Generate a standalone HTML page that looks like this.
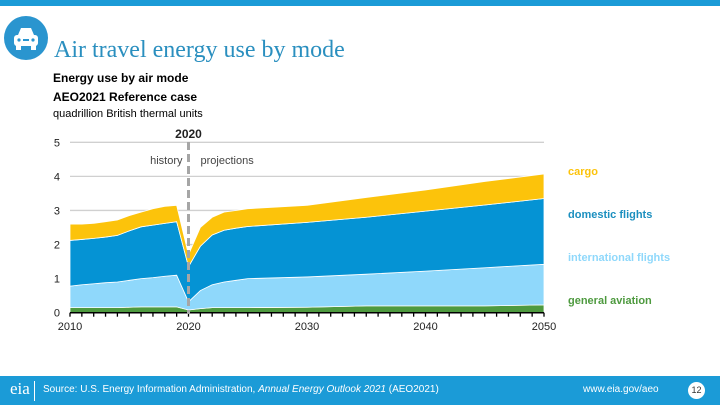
<!DOCTYPE html>
<html><head><meta charset="utf-8"><style>
body{margin:0;width:720px;height:405px;overflow:hidden;background:#fff;font-family:"Liberation Sans",sans-serif;position:relative}
.abs{position:absolute}
</style></head><body>
<div class="abs" style="left:0;top:0;width:720px;height:6px;background:#1b9bd7"></div>
<div class="abs" style="left:4px;top:16px;width:44px;height:44px;border-radius:50%;background:#2a95cf">
<svg width="44" height="44"><rect x="10" y="19" width="24" height="11" rx="3" fill="#fff"/><path d="M14 19 L17 12 H27 L30 19Z" fill="#fff"/><rect x="12" y="29" width="5" height="5" fill="#fff"/><rect x="27" y="29" width="5" height="5" fill="#fff"/><circle cx="15" cy="24" r="1.6" fill="#2a95cf"/><circle cx="29" cy="24" r="1.6" fill="#2a95cf"/><rect x="19" y="23" width="6" height="2" fill="#2a95cf"/></svg></div>
<div class="abs" style="left:54px;top:37px;font-family:'Liberation Serif',serif;font-size:24px;color:#2a8fbf">Air travel energy use by mode</div>
<div class="abs" style="left:53px;top:71px;font-size:12px;font-weight:bold">Energy use by air mode</div>
<div class="abs" style="left:53px;top:90px;font-size:12px;font-weight:bold">AEO2021 Reference case</div>
<div class="abs" style="left:53px;top:108px;font-size:11px">quadrillion British thermal units</div>
<svg class="abs" style="left:0;top:0" width="720" height="405" id="chart"></svg>
<div class="abs" style="left:0;top:376px;width:720px;height:29px;background:#1b9bd7;color:#fff">
<div class="abs" style="left:10px;top:3px;font-size:17px;font-family:'Liberation Serif',serif">eia</div>
<div class="abs" style="left:34px;top:5px;width:1px;height:20px;background:#fff"></div>
<div class="abs" style="left:43px;top:8px;font-size:10px">Source: U.S. Energy Information Administration, <i>Annual Energy Outlook 2021</i> (AEO2021)</div>
<div class="abs" style="left:583px;top:8px;font-size:10px">www.eia.gov/aeo</div>
<div class="abs" style="left:688px;top:6px;width:17px;height:17px;border-radius:50%;background:#fff;color:#333;font-size:9px;text-align:center;line-height:17px">12</div>
</div>
<script>
const years=[2010,2011,2012,2013,2014,2015,2016,2017,2018,2019,2020,2021,2022,2023,2024,2025,2030,2035,2040,2045,2050];
const generalAviation=[.15,.15,.15,.15,.15,.16,.17,.17,.17,.17,.08,.12,.15,.15,.15,.15,.16,.2,.2,.2,.23];
const international=[.63,.67,.70,.73,.75,.79,.83,.86,.90,.93,.24,.53,.67,.75,.80,.85,.89,.93,1.02,1.12,1.19];
const domestic=[1.34,1.33,1.33,1.34,1.37,1.45,1.52,1.54,1.55,1.57,1.03,1.30,1.46,1.52,1.53,1.53,1.60,1.67,1.76,1.84,1.93];
const cargo=[.48,.45,.44,.45,.45,.45,.43,.48,.50,.48,.35,.55,.52,.53,.52,.52,.50,.58,.62,.69,.72];
const yTicks=[0,1,2,3,4,5];
const xTicks=[2010,2020,2030,2040,2050];
const seriesNames=["general aviation","international flights","domestic flights","cargo"];
const seriesColors=["#4e9a3f","#8fd8fb","#0593d4","#fcc30b"];
const labelColors=["#4e9a3f","#8fd8fb","#1b8fbf","#fcc30b"];
const labelY=[304,261,218,175];
const X=y=>70+(y-2010)*(544-70)/40;
const Y=v=>312.7-v*34.08;
const svg=document.getElementById('chart');
const NS="http://www.w3.org/2000/svg";
function mk(t,a){const e=document.createElementNS(NS,t);for(const k in a)e.setAttribute(k,a[k]);svg.appendChild(e);return e;}
yTicks.forEach(t=>{
 if(t>0){const g=mk('line',{x1:70,x2:544,y1:Y(t),y2:Y(t),stroke:'#d0d0d0','stroke-width':1.3});
 
 }
 const l=mk('text',{x:60,y:Y(t)+4,'font-size':11,'text-anchor':'end',fill:'#222'});l.textContent=t;
 
 
});
const series=[generalAviation,international,domestic,cargo];
let base=years.map(()=>0);
series.forEach((s,i)=>{
 const top=base.map((b,j)=>b+s[j]);
 let d='M'+years.map((y,j)=>X(y)+','+Y(top[j])).join(' L');
 for(let j=years.length-1;j>=0;j--)d+=' L'+X(years[j])+','+Y(base[j]);
 const p=mk('path',{d:d+'Z',fill:seriesColors[i],stroke:'#fff','stroke-width':0.8});
 
 
 const lab=mk('text',{x:568,y:labelY[i],'font-size':11,'font-weight':'bold',fill:labelColors[i]});
 lab.textContent=seriesNames[i];
 
 
 base=top;
});
const ax=mk('line',{x1:70,x2:544,y1:Y(0),y2:Y(0),stroke:'#000','stroke-width':1.5});


for(let y=2010;y<=2050;y++){const t=mk('line',{x1:X(y),x2:X(y),y1:Y(0),y2:Y(0)+4,stroke:'#000','stroke-width':1.3});
 
 }
xTicks.forEach(y=>{const l=mk('text',{x:X(y),y:330,'font-size':11,'text-anchor':'middle',fill:'#222'});l.textContent=y;
 
 });
const dv=mk('line',{x1:X(2020),x2:X(2020),y1:142,y2:314,stroke:'#a6a6a6','stroke-width':3,'stroke-dasharray':'8,4'});


[["2020",X(2020),138,'middle',12,'bold','#222'],["history",X(2020)-6,164,'end',11,'normal','#444'],["projections",X(2020)+12,164,'start',11,'normal','#444']].forEach(a=>{
 const l=mk('text',{x:a[1],y:a[2],'text-anchor':a[3],'font-size':a[4],'font-weight':a[5],fill:a[6]});l.textContent=a[0];
 
 });
</script>
</body></html>
